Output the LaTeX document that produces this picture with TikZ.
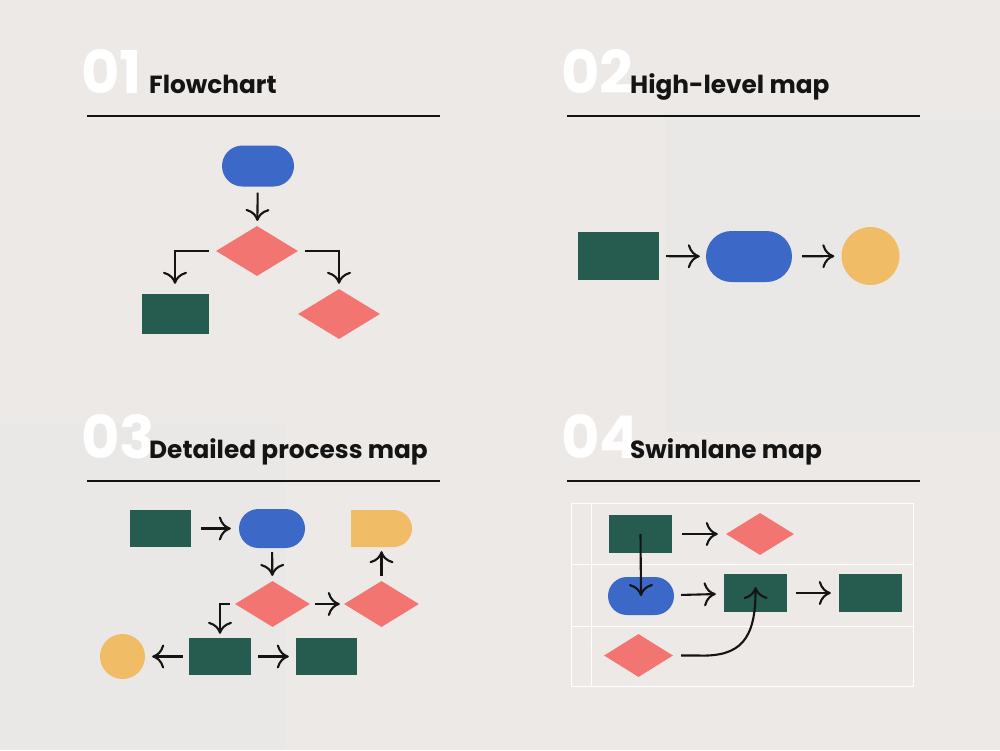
\documentclass[tikz,border=0pt]{standalone}
\usepackage{fontspec}
\setmainfont{Poppins}
\usetikzlibrary{arrows.meta, shapes.geometric, shapes.misc}

\definecolor{paper}{HTML}{ECE9E7}
\definecolor{patch}{HTML}{E9E8E6}
\definecolor{ink}{HTML}{141414}
\definecolor{mapblue}{HTML}{3C68C8}
\definecolor{mapgreen}{HTML}{265C50}
\definecolor{mapred}{HTML}{F27572}
\definecolor{mapyellow}{HTML}{F0BC66}

\begin{document}
\begin{tikzpicture}[x=1pt, y=-1pt,
    link/.style={draw=ink, line width=2.1pt, -{To[length=12pt, width=24pt]}},
    numlabel/.style={white, inner sep=0pt, anchor=base west, font=\fontsize{59}{59}\selectfont\bfseries},
    titlelabel/.style={ink, inner sep=0pt, anchor=base west, font=\fontsize{24.8}{26}\selectfont\bfseries},
    rule/.style={ink, line width=1.5pt},
    procbox/.style={rectangle, fill=mapgreen, inner sep=0pt},
    terminal/.style={rounded rectangle, fill=mapblue, inner sep=0pt},
    choice/.style={diamond, fill=mapred, inner sep=0pt},
    endpoint/.style={circle, fill=mapyellow, inner sep=0pt},
    delay/.style={rounded rectangle, rounded rectangle left arc=none, fill=mapyellow, inner sep=0pt},
    lane/.style={white, line width=1pt}]

    % 1. Paper and the two grey patches
    \fill[paper] (0,0) rectangle (1000,750);
    \useasboundingbox (0,0) rectangle (1000,750);
    \fill[patch] (665,119) rectangle (1000,432);
    \fill[patch] (0,423) rectangle (285,750);

    % 2. Headings with their big numbers and rules
    \node[numlabel] (n1) at (81,93) {01};
    \node[titlelabel] (h1) at (149,93) {Flowchart};
    \draw[rule] (87,116) -- (440,116);

    \node[numlabel] (n2) at (561,93) {02};
    \node[titlelabel] (h2) at (630,93) {High-level map};
    \draw[rule] (567,116) -- (920,116);

    \node[numlabel] (n3) at (81,458) {03};
    \node[titlelabel] (h3) at (149,458) {Detailed process map};
    \draw[rule] (87,481) -- (440,481);

    \node[numlabel] (n4) at (561,458) {04};
    \node[titlelabel] (h4) at (630,458) {Swimlane map};
    \draw[rule] (567,481) -- (920,481);

    % 3. Flowchart
    \node[terminal, minimum width=72pt, minimum height=41pt] (fstart) at (258,166) {};
    \node[choice, minimum width=82pt, minimum height=50pt] (fdec) at (257,251) {};
    \node[procbox, minimum width=67pt, minimum height=40pt] (fno) at (175,314) {};
    \node[choice, minimum width=82pt, minimum height=50pt] (fyes) at (339,314) {};

    \draw[link, shorten <=6pt, shorten >=5pt] (fstart) -- (fdec);
    \draw[link, shorten <=7pt, shorten >=10pt] (fdec.west) -| (fno.north);
    \draw[link, shorten <=7pt, shorten >=5pt] (fdec.east) -| (fyes.north);

    % 4. High-level map
    \node[procbox, minimum width=81pt, minimum height=48pt] (hstep) at (618.5,256) {};
    \node[terminal, minimum width=86pt, minimum height=51pt] (hphase) at (749,256.5) {};
    \node[endpoint, minimum size=58pt] (hend) at (870.5,256) {};

    \draw[link, shorten <=7pt, shorten >=6pt] (hstep) -- (hphase);
    \draw[link, shorten <=10pt, shorten >=7pt] (hphase) -- (hend);

    % 5. Detailed process map
    \node[procbox, minimum width=61pt, minimum height=37pt] (dinput) at (160.5,528.5) {};
    \node[terminal, minimum width=66pt, minimum height=39pt] (dstart) at (272,528.5) {};
    \node[delay, minimum width=61pt, minimum height=37pt] (ddone) at (381.5,528.5) {};
    \node[choice, minimum width=75pt, minimum height=46pt] (dcheck) at (272.5,604) {};
    \node[choice, minimum width=75pt, minimum height=46pt] (dreview) at (381.5,604) {};
    \node[endpoint, minimum size=45pt] (dstop) at (122.5,656.5) {};
    \node[procbox, minimum width=62pt, minimum height=37pt] (dtask) at (220,656.5) {};
    \node[procbox, minimum width=61pt, minimum height=37pt] (dnext) at (326.5,656.5) {};

    \draw[link, shorten <=10pt, shorten >=8pt] (dinput) -- (dstart);
    \draw[link, shorten <=4pt, shorten >=5pt] (dstart) -- (dcheck);
    \draw[link, shorten <=5pt, shorten >=4pt] (dcheck) -- (dreview);
    \draw[link, shorten <=5pt, shorten >=4pt] (dreview) -- (ddone);
    \draw[link, shorten <=5pt, shorten >=4pt] (dcheck.west) -| (dtask.north);
    \draw[link, shorten <=6pt, shorten >=7pt] (dtask) -- (dstop);
    \draw[link, shorten <=7pt, shorten >=7pt] (dtask) -- (dnext);

    % 6. Swimlane map
    \draw[lane] (571,503) rectangle (913,686);
    \draw[lane] (591,503) -- (591,686);
    \draw[lane] (571,564) -- (913,564);
    \draw[lane] (571,626) -- (913,626);

    \node[procbox, minimum width=63pt, minimum height=38pt] (sa1) at (640.5,534) {};
    \node[choice, minimum width=68pt, minimum height=42pt] (sa2) at (760,534) {};
    \node[terminal, minimum width=66pt, minimum height=38pt] (sb1) at (641,596) {};
    \node[procbox, minimum width=63pt, minimum height=38pt] (sb2) at (755.5,593) {};
    \node[procbox, minimum width=63pt, minimum height=38pt] (sb3) at (870.5,593) {};
    \node[choice, minimum width=69pt, minimum height=43pt] (sc1) at (638.5,655.5) {};

    \draw[link, shorten <=10pt, shorten >=8pt] (sa1) -- (sa2);
    \draw[link] (sa1.center) -- (sb1.center);
    \draw[link, shorten <=7pt, shorten >=8pt] (sb1) -- (sb2);
    \draw[link, shorten <=9pt, shorten >=8pt] (sb2) -- (sb3);
    \draw[link, shorten <=8pt] (sc1.east) -- ++(25,0)
        .. controls (740,657) and (756,640) .. ([yshift=6pt]sb2.center);

\end{tikzpicture}
\end{document}
